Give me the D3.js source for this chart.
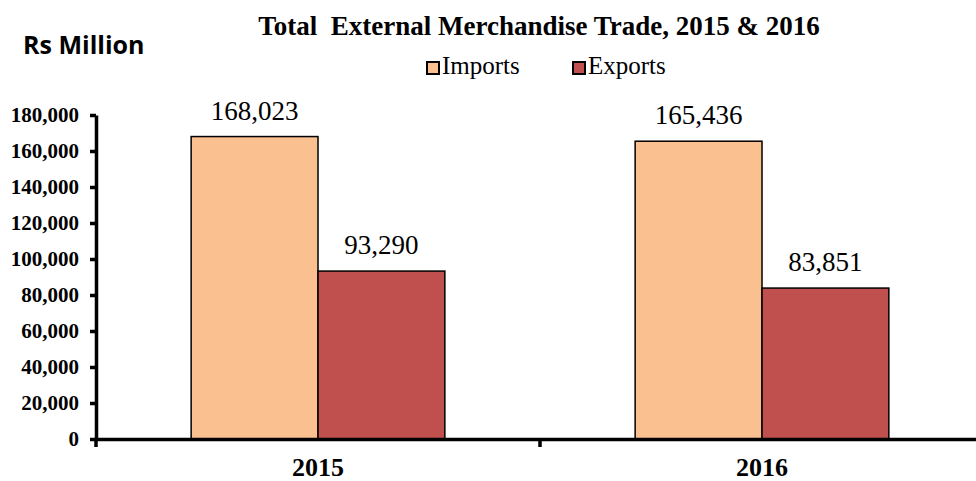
<!DOCTYPE html>
<html>
<head>
<meta charset="utf-8">
<script src="https://cdn.jsdelivr.net/npm/d3@7"></script>
<style>
  html,body{margin:0;padding:0;background:#fff;}
  svg{display:block;}
</style>
</head>
<body>
<script>
var years=['2015','2016'];
var series=['Imports','Exports'];
var imports=[168023,165436];
var exports=[93290,83851];
var yTicks=[0,20000,40000,60000,80000,100000,120000,140000,160000,180000];
var colors=['#FAC090','#C0504D'];

var serif='"Liberation Serif","Times New Roman",serif';
var width=976,height=481;
var svg=d3.select('body').append('svg')
  .attr('width',width)
  .attr('height',height);

var x0=d3.scaleBand()
  .domain(years)
  .range([96,984])
  .padding(0);

var x1=d3.scaleBand()
  .domain(series)
  .range([0,x0.bandwidth()])
  .paddingInner(0)
  .paddingOuter(0.75);

var y=d3.scaleLinear()
  .domain([0,180000])
  .range([439,115]);

// bars
var groups=svg.append('g').selectAll('g')
  .data(years)
  .enter()
  .append('g')
  .attr('transform',(d)=>'translate('+x0(d)+',0)');

groups.selectAll('rect')
  .data((d,i)=>[{s:'Imports',v:imports[i]},{s:'Exports',v:exports[i]}])
  .enter()
  .append('rect')
  .attr('x',(d)=>x1(d.s))
  .attr('y',(d)=>y(d.v))
  .attr('width',x1.bandwidth())
  .attr('height',(d)=>y(0)-y(d.v))
  .style('fill',(d)=>colors[series.indexOf(d.s)])
  .style('stroke','#000')
  .style('stroke-width',1.5);

groups.selectAll('text')
  .data((d,i)=>[{s:'Imports',v:imports[i]},{s:'Exports',v:exports[i]}])
  .enter()
  .append('text')
  .attr('x',(d)=>x1(d.s)+x1.bandwidth()/2)
  .attr('y',(d)=>y(d.v)-17)
  .attr('text-anchor','middle')
  .style('font-family',serif)
  .style('font-size','27px')
  .style('fill','#000')
  .text((d)=>d3.format(',')(d.v));

// y axis
var yAxis=d3.axisLeft(y)
  .tickValues(yTicks)
  .tickFormat(d3.format(','))
  .tickSizeInner(6)
  .tickSizeOuter(0)
  .tickPadding(11);

var yg=svg.append('g')
  .attr('transform','translate(96,0)')
  .call(yAxis);
yg.select('.domain').style('stroke','#000').style('stroke-width',3.5);
yg.selectAll('.tick line').style('stroke','#000').style('stroke-width',3.5);
yg.selectAll('.tick text')
  .style('font-family',serif)
  .style('font-size','21px')
  .style('font-weight','bold')
  .style('fill','#000');

// x axis
var xAxis=d3.axisBottom(x0)
  .tickSize(0)
  .tickPadding(19);

var xg=svg.append('g')
  .attr('transform','translate(0,439)')
  .call(xAxis);
xg.select('.domain').style('stroke','#000').style('stroke-width',3.5);
xg.selectAll('.tick text')
  .style('font-family',serif)
  .style('font-size','26px')
  .style('font-weight','bold')
  .style('fill','#000');

xg.selectAll('.bound')
  .data(years.map((d)=>x0(d)).concat([x0.range()[1]]))
  .enter()
  .append('line')
  .attr('class','bound')
  .attr('x1',(d)=>d)
  .attr('x2',(d)=>d)
  .attr('y1',0)
  .attr('y2',8)
  .style('stroke','#000')
  .style('stroke-width',3.5);

// title
svg.append('text')
  .attr('x',539)
  .attr('y',35)
  .attr('text-anchor','middle')
  .style('font-family',serif)
  .style('font-size','27px')
  .style('font-weight','bold')
  .style('white-space','pre')
  .text('Total  External Merchandise Trade, 2015 & 2016');

svg.append('text')
  .attr('x',23)
  .attr('y',54)
  .style('font-family','"Open Sans",sans-serif')
  .style('font-size','25px')
  .style('font-weight','bold')
  .text('Rs Million');

// legend
var legendX=[427,573];
var legend=svg.append('g').selectAll('g')
  .data(series)
  .enter()
  .append('g')
  .attr('transform',(d,i)=>'translate('+legendX[i]+',62)');

legend.append('rect')
  .attr('width',12)
  .attr('height',12)
  .style('fill',(d,i)=>colors[i])
  .style('stroke','#000')
  .style('stroke-width',2);

legend.append('text')
  .attr('x',15)
  .attr('y',12)
  .style('font-family',serif)
  .style('font-size','25px')
  .text((d)=>d);
</script>
</body>
</html>
